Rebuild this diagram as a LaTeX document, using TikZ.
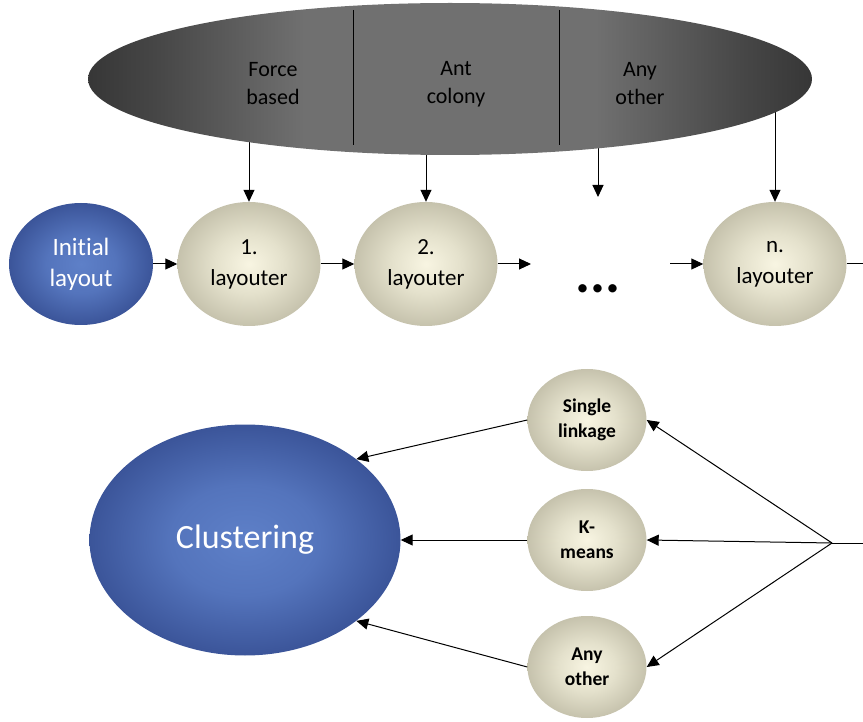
\documentclass[tikz,border=0pt]{standalone}
\usepackage{fontspec}
\setmainfont{Carlito}[Ligatures=NoCommon]
\usetikzlibrary{shapes.geometric,arrows.meta,backgrounds}

% colour ramps for the three kinds of shapes
\pgfdeclarehorizontalshading{bandshade}{100bp}{%
  color(0bp)=(black!97); color(18bp)=(black!88); color(30bp)=(black!72);
  color(40bp)=(black!56); color(60bp)=(black!56); color(70bp)=(black!72);
  color(82bp)=(black!88); color(100bp)=(black!97)}
\pgfdeclareradialshading{blueshade}{\pgfpoint{0bp}{0bp}}{%
  color(0bp)=(rgb,255:red,94;green,128;blue,200);
  color(12bp)=(rgb,255:red,84;green,116;blue,188);
  color(36bp)=(rgb,255:red,38;green,58;blue,124);
  color(60bp)=(rgb,255:red,38;green,58;blue,124)}
\pgfdeclareradialshading{beigeshade}{\pgfpoint{0bp}{0bp}}{%
  color(0bp)=(rgb,255:red,248;green,245;blue,226);
  color(12bp)=(rgb,255:red,228;green,225;blue,204);
  color(36bp)=(rgb,255:red,172;green,168;blue,146);
  color(60bp)=(rgb,255:red,172;green,168;blue,146)}

\tikzset{
  blueball/.style={ellipse, shading=blueshade, inner sep=0pt, text=white, align=center},
  beigeball/.style={ellipse, shading=beigeshade, inner sep=0pt, text=black, align=center},
  bandlabel/.style={align=center, font=\fontsize{22}{28}\selectfont},
  flow/.style={-{Triangle[length=12pt,width=11pt]}, line width=1pt},
  plain/.style={line width=1pt}
}

\begin{document}
\begin{tikzpicture}[x=1pt,y=-1pt]
\useasboundingbox (0,0) rectangle (863,722);

% ---- methods band ----
\node[ellipse, shading=bandshade, minimum width=724pt, minimum height=152pt,
      inner sep=0pt] (band) at (450,79) {};
\draw[plain] (353,10) -- (353,145);
\draw[plain] (559,10) -- (559,145);
\node[bandlabel] (fb) at (273,84) {Force\\based};
\node[bandlabel] (ac) at (456,84) {Ant\\colony};
\node[bandlabel] (ao1) at (640,84) {Any\\other};

% ---- layouter chain ----
\tikzset{rowfont/.style={font=\fontsize{23}{31}\selectfont}}
\node[blueball, font=\fontsize{25}{31}\selectfont, minimum width=144pt, minimum height=122pt] (init) at (81,264) {Initial\\layout};
\node[beigeball, rowfont, minimum width=143pt, minimum height=124pt] (l1) at (249,264) {1.\\layouter};
\node[beigeball, rowfont, minimum width=143pt, minimum height=124pt] (l2) at (426,264) {2.\\layouter};
\node[beigeball, rowfont, minimum width=143pt, minimum height=124pt] (ln) at (775,264) {n.\\layouter};
\node[font=\bfseries\fontsize{56}{56}\selectfont] (dots) at (598,289) {...};

\coordinate (dotsin) at (598,197);
\coordinate (dA) at (531,264);
\coordinate (dB) at (670,264);
\coordinate (rowend) at (863,264);

\begin{scope}[on background layer]
  \draw[flow] (band.center -| l1.north) -- (l1.north);
  \draw[flow] (band.center -| l2.north) -- (l2.north);
  \draw[flow] (band.center -| dotsin) -- (dotsin);
  \draw[flow] (band.center -| ln.north) -- (ln.north);
\end{scope}

\draw[flow] (init.east) -- (l1.west);
\draw[flow] (l1.east) -- (l2.west);
\draw[flow] (l2.east) -- (dA);
\draw[flow] (dB) -- (ln.west);
\draw[plain] (ln.east) -- (rowend);

% ---- clustering ----
\node[blueball, font=\fontsize{34}{40}\selectfont, minimum width=311pt, minimum height=231pt] (clu) at (245,540) {Clustering};

\tikzset{smallball/.style={beigeball, font=\bfseries\fontsize{19.5}{25}\selectfont,
  minimum width=119pt, minimum height=102pt}}
\node[smallball] (sl) at (587,420) {Single\\linkage};
\node[smallball] (km) at (587,540) {K-\\means};
\node[smallball] (ao) at (587,667) {Any\\other};

\coordinate (fan) at (832,543);
\coordinate (fanend) at (863,543);

\draw[flow] (sl.west) -- (clu.36);
\draw[flow] (km.west) -- (clu.east);
\draw[flow] (ao.west) -- (clu.-36);

\draw[flow] (fan) -- (sl.east);
\draw[flow] (fan) -- (km.east);
\draw[flow] (fan) -- (ao.east);
\draw[plain] (fan) -- (fanend);
\end{tikzpicture}
\end{document}
